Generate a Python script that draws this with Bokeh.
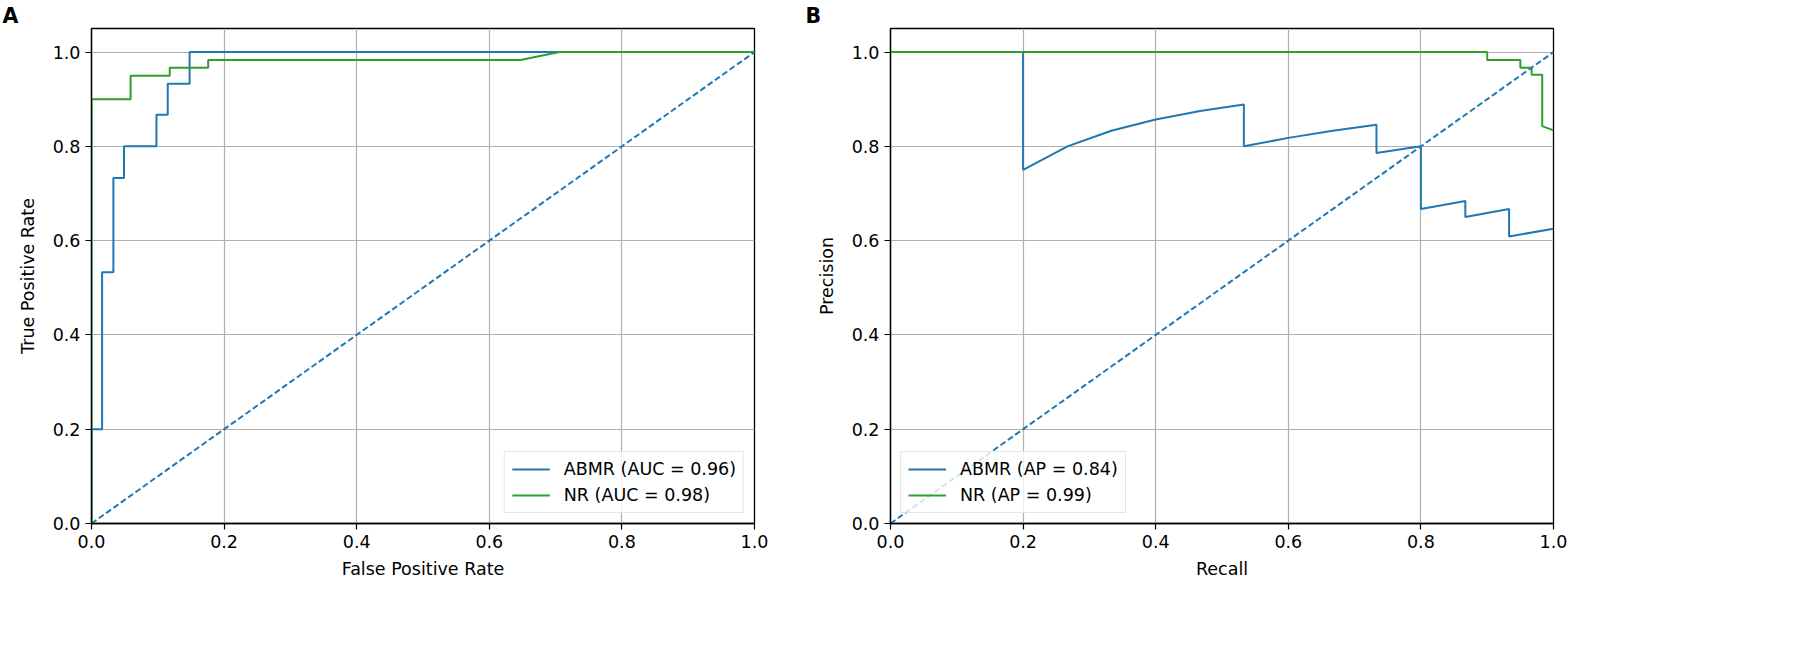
from bokeh.plotting import figure
from bokeh.models import Range1d, FixedTicker, NumeralTickFormatter, Legend, LegendItem, Title
from bokeh.layouts import row
from bokeh.embed import file_html
from bokeh.resources import INLINE

# ---- data ----
roc_abmr_fpr = [0.0, 0.0, 0.016, 0.016, 0.033, 0.033, 0.049, 0.049, 0.098, 0.098, 0.115, 0.115, 0.148, 0.148, 1.0]
roc_abmr_tpr = [0.0, 0.2, 0.2, 0.533, 0.533, 0.733, 0.733, 0.8, 0.8, 0.867, 0.867, 0.933, 0.933, 1.0, 1.0]
roc_nr_fpr = [0.0, 0.0, 0.059, 0.059, 0.118, 0.118, 0.176, 0.176, 0.647, 0.706, 1.0]
roc_nr_tpr = [0.0, 0.9, 0.9, 0.95, 0.95, 0.967, 0.967, 0.983, 0.983, 1.0, 1.0]

pr_abmr_recall = [0.0, 0.2, 0.2, 0.267, 0.333, 0.4, 0.467, 0.533, 0.533, 0.6, 0.667, 0.733, 0.733,
                  0.8, 0.8, 0.867, 0.867, 0.933, 0.933, 1.0]
pr_abmr_precision = [1.0, 1.0, 0.75, 0.8, 0.833, 0.857, 0.875, 0.889, 0.8, 0.818, 0.833, 0.846, 0.786,
                     0.8, 0.667, 0.684, 0.65, 0.667, 0.609, 0.625]
pr_nr_recall = [0.0, 0.9, 0.9, 0.95, 0.95, 0.967, 0.967, 0.983, 0.983, 1.0]
pr_nr_precision = [1.0, 1.0, 0.983, 0.983, 0.967, 0.967, 0.952, 0.952, 0.843, 0.834]

diag = [0.0, 1.0]
ticks = [0.0, 0.2, 0.4, 0.6, 0.8, 1.0]

roc_labels = ["ABMR (AUC = 0.96)", "NR (AUC = 0.98)"]
pr_labels = ["ABMR (AP = 0.84)", "NR (AP = 0.99)"]

BLUE = "#1f77b4"
GREEN = "#2ca02c"
FONT = "DejaVu Sans"
FS = "17.5px"


def make_panel(letter, letter_offset, xs_a, ys_a, xs_n, ys_n, labels, xlabel, ylabel,
               legend_loc, border_left, border_right):
    p = figure(frame_width=663, frame_height=495,
               min_border_left=border_left, min_border_right=border_right,
               min_border_top=28, min_border_bottom=138,
               x_range=Range1d(0, 1), y_range=Range1d(0, 1.05),
               output_backend="svg", toolbar_location=None,
               background_fill_color="white", border_fill_color="white",
               title=None)
    p.outline_line_color = "black"
    p.outline_line_width = 1.3
    p.outline_line_alpha = 1.0

    p.add_layout(Title(text=letter, align="left", offset=letter_offset, standoff=2,
                       text_font=FONT, text_font_style="bold", text_font_size="20.5px",
                       text_color="black"), "above")

    for ax in (p.xaxis[0], p.yaxis[0]):
        ax.ticker = FixedTicker(ticks=ticks)
        ax.formatter = NumeralTickFormatter(format="0.0")
        ax.minor_tick_line_color = None
        ax.major_tick_in = 0
        ax.major_tick_out = 6
        ax.major_tick_line_width = 1.2
        ax.axis_line_width = 1.3
        ax.major_label_text_font = FONT
        ax.major_label_text_font_size = FS
        ax.major_label_text_color = "black"
        ax.axis_label_text_font = FONT
        ax.axis_label_text_font_size = FS
        ax.axis_label_text_font_style = "normal"
        ax.axis_label_text_color = "black"
    p.xaxis.major_label_standoff = 5
    p.yaxis.major_label_standoff = 5
    p.xaxis.axis_label = xlabel
    p.yaxis.axis_label = ylabel
    p.xaxis.axis_label_standoff = 8
    p.yaxis.axis_label_standoff = 12

    p.grid.grid_line_color = "#b0b0b0"
    p.grid.grid_line_width = 1.2
    p.grid.grid_line_alpha = 1.0

    r1 = p.line(xs_a, ys_a, line_color=BLUE, line_width=2.0)
    r2 = p.line(xs_n, ys_n, line_color=GREEN, line_width=2.0)
    p.line(diag, diag, line_color=BLUE, line_width=2.0, line_dash="6 3")

    legend = Legend(items=[LegendItem(label=labels[0], renderers=[r1]),
                           LegendItem(label=labels[1], renderers=[r2])],
                    location=legend_loc)
    legend.margin = 10
    legend.padding = 7
    legend.spacing = 6
    legend.glyph_width = 38
    legend.glyph_height = 20
    legend.label_standoff = 14
    legend.label_text_font = FONT
    legend.label_text_font_size = FS
    legend.label_text_color = "black"
    legend.border_line_color = "#cccccc"
    legend.border_line_width = 1.2
    legend.background_fill_color = "white"
    legend.background_fill_alpha = 0.8
    p.add_layout(legend)
    return p


pA = make_panel("A", -89, roc_abmr_fpr, roc_abmr_tpr, roc_nr_fpr, roc_nr_tpr, roc_labels,
                "False Positive Rate", "True Positive Rate", "bottom_right", 91, 44)
pB = make_panel("B", -85, pr_abmr_recall, pr_abmr_precision, pr_nr_recall, pr_nr_precision, pr_labels,
                "Recall", "Precision", "bottom_left", 92, 245)

layout = row(pA, pB)
open("out.html", "w").write(file_html(layout, INLINE))
